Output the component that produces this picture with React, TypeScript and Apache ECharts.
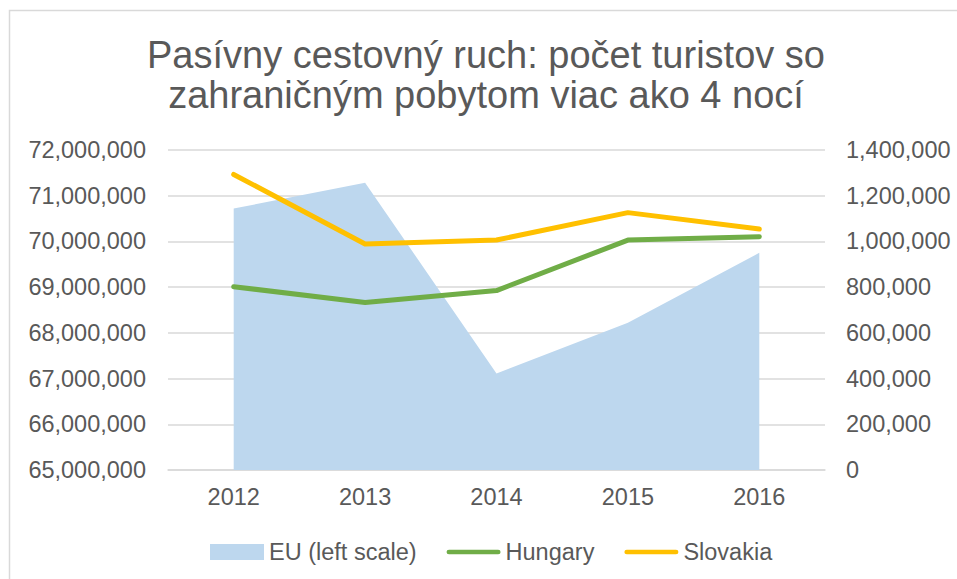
import React, { useEffect, useRef } from "react";
import * as echarts from "echarts";

const years = ["2012", "2013", "2014", "2015", "2016"];
const euValues = [70720000, 71285000, 67110000, 68220000, 69750000];
const hungaryValues = [802000, 733000, 785000, 1006000, 1021000];
const slovakiaValues = [1293000, 989000, 1006000, 1126000, 1054000];
const titleLines = ["Pasívny cestovný ruch: počet turistov so", "zahraničným pobytom viac ako 4 nocí"];
const seriesNames = ["EU (left scale)", "Hungary", "Slovakia"];

const FONT = "'Liberation Sans', Arial, sans-serif";
const TXT = "#595959";
const fmt = (v: number) => Math.round(v).toLocaleString("en-US");
const LINE_ICON = "path://M2.5,0 H54.5 A2.5,2.5 0 0 1 54.5,5 H2.5 A2.5,2.5 0 0 1 2.5,0 Z";

export default function App() {
  const ref = useRef<HTMLDivElement>(null);
  useEffect(() => {
    if (!ref.current) return;
    const chart = echarts.init(ref.current, null, { renderer: "svg" });
    chart.setOption({
      animation: false,
      backgroundColor: "#ffffff",
      textStyle: { fontFamily: FONT },
      title: {
        text: titleLines.join("\n"),
        left: 486,
        top: 35,
        padding: 0,
        textAlign: "center",
        textStyle: { fontFamily: FONT, fontSize: 38, lineHeight: 40, fontWeight: "normal", color: TXT },
      },
      graphic: [
        {
          type: "rect",
          shape: { x: 9.5, y: 10.5, width: 1000, height: 1000 },
          style: { fill: "none", stroke: "#D9D9D9", lineWidth: 1.5 },
          silent: true,
          z: -1,
        },
      ],
      legend: {
        left: 210,
        top: 540,
        padding: 0,
        itemWidth: 54,
        itemHeight: 16,
        itemGap: 30,
        symbolKeepAspect: true,
        textStyle: { fontFamily: FONT, fontSize: 23.5, color: TXT },
        data: [
          { name: seriesNames[0], icon: "rect", itemWidth: 52 },
          { name: seriesNames[1], icon: LINE_ICON },
          { name: seriesNames[2], icon: LINE_ICON },
        ],
      },
      grid: { left: 168, right: 132, top: 150, bottom: 109, containLabel: false },
      xAxis: {
        type: "category",
        data: years,
        boundaryGap: true,
        axisLine: { show: true, lineStyle: { color: "#D9D9D9", width: 1.5 } },
        axisTick: { show: false },
        axisLabel: { fontFamily: FONT, fontSize: 23.5, color: TXT, margin: 15 },
      },
      yAxis: [
        {
          type: "value",
          min: 65000000,
          max: 72000000,
          interval: 1000000,
          position: "left",
          axisLine: { show: false },
          axisTick: { show: false },
          splitLine: { show: true, lineStyle: { color: "#D9D9D9", width: 1.5 } },
          axisLabel: { fontFamily: FONT, fontSize: 23.5, color: TXT, margin: 22, formatter: fmt },
        },
        {
          type: "value",
          min: 0,
          max: 1400000,
          interval: 200000,
          position: "right",
          axisLine: { show: false },
          axisTick: { show: false },
          splitLine: { show: false },
          axisLabel: { fontFamily: FONT, fontSize: 23.5, color: TXT, margin: 21, formatter: fmt },
        },
      ],
      series: [
        {
          name: seriesNames[0],
          type: "line",
          yAxisIndex: 0,
          data: euValues,
          showSymbol: false,
          symbol: "none",
          itemStyle: { color: "#BDD7EE" },
          lineStyle: { width: 0, color: "#BDD7EE" },
          areaStyle: { color: "#BDD7EE", opacity: 1, origin: "start" },
          z: 1,
        },
        {
          name: seriesNames[1],
          type: "line",
          yAxisIndex: 1,
          data: hungaryValues,
          showSymbol: false,
          symbol: "none",
          itemStyle: { color: "#70AD47" },
          lineStyle: { width: 5, color: "#70AD47", cap: "round", join: "round" },
          z: 2,
        },
        {
          name: seriesNames[2],
          type: "line",
          yAxisIndex: 1,
          data: slovakiaValues,
          showSymbol: false,
          symbol: "none",
          itemStyle: { color: "#FFC000" },
          lineStyle: { width: 5, color: "#FFC000", cap: "round", join: "round" },
          z: 3,
        },
      ],
    });
    return () => chart.dispose();
  }, []);
  return (
    <div
      ref={ref}
      style={{ position: "absolute", left: 0, top: 0, width: 957, height: 579, overflow: "hidden" }}
    />
  );
}
